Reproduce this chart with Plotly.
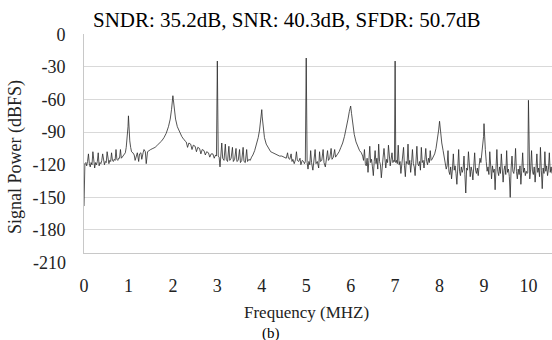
import plotly.graph_objects as go

# ---------------- data ----------------
freq_0_1 = [0.00, 0.02, 0.04, 0.06, 0.08, 0.10, 0.12, 0.14, 0.16, 0.18, 0.20, 0.22, 0.24, 0.26, 0.28,
            0.30, 0.32, 0.34, 0.36, 0.38, 0.40, 0.42, 0.44, 0.46, 0.48, 0.50, 0.52, 0.54, 0.56, 0.58,
            0.60, 0.62, 0.64, 0.66, 0.68, 0.70, 0.72, 0.74, 0.76, 0.78, 0.80, 0.82, 0.84, 0.86, 0.88,
            0.90, 0.93, 0.95, 0.97, 0.99, 1.00, 1.01, 1.03, 1.05, 1.07]
db_0_1 = [-158, -119, -118, -121, -117, -110, -119, -122, -118, -120, -108, -119, -123, -118, -120,
          -117, -109, -121, -118, -119, -116, -110, -118, -120, -117, -118, -108, -117, -119, -116,
          -117, -109, -116, -117, -115, -116, -106, -115, -116, -114, -114, -106, -114, -113, -112,
          -111, -109, -104, -97, -85, -75, -85, -98, -104, -108]

freq_1_2 = [1.10, 1.13, 1.15, 1.18, 1.20, 1.23, 1.25, 1.28, 1.30, 1.33, 1.35, 1.38, 1.40, 1.43, 1.46,
            1.50, 1.55, 1.60, 1.65, 1.70, 1.75, 1.80, 1.85, 1.90, 1.94, 1.97, 1.99, 2.00, 2.01, 2.03,
            2.06, 2.10, 2.15, 2.20, 2.25]
db_1_2 = [-109, -111, -116, -110, -109, -117, -110, -109, -115, -109, -106, -108, -119, -108, -107,
          -106, -105, -104, -102, -100, -98, -95, -91, -85, -78, -69, -60, -56.5, -60, -69,
          -78, -85, -90, -94, -97]

freq_2_3 = [2.30, 2.33, 2.36, 2.40, 2.43, 2.46, 2.50, 2.53, 2.56, 2.60, 2.63, 2.66, 2.70, 2.73, 2.76,
            2.80, 2.83, 2.86, 2.90, 2.93, 2.96, 2.98, 3.00, 3.02, 3.04, 3.06]
db_2_3 = [-99, -104, -100, -101, -106, -102, -103, -108, -104, -105, -110, -106, -107, -111, -108,
          -109, -113, -110, -110, -114, -111, -112, -24.6, -112, -113, -122]

freq_3_4 = [3.08, 3.10, 3.12, 3.15, 3.18, 3.20, 3.23, 3.26, 3.28, 3.31, 3.34, 3.36, 3.39, 3.42, 3.44,
            3.47, 3.50, 3.52, 3.55, 3.58, 3.60, 3.63, 3.66, 3.68, 3.71, 3.74, 3.77, 3.80, 3.84, 3.88,
            3.92, 3.95, 3.97, 3.99, 4.00, 4.01, 4.03, 4.06, 4.10, 4.15, 4.20, 4.25, 4.30]
db_3_4 = [-113, -100, -114, -116, -101, -115, -117, -103, -116, -114, -104, -117, -115, -105, -117,
          -116, -106, -118, -116, -104, -117, -118, -106, -117, -115, -116, -113, -111, -107, -102,
          -95, -88, -82, -74, -69.3, -76, -86, -95, -101, -105, -108, -109, -110]

freq_4_5 = [4.35, 4.40, 4.45, 4.50, 4.55, 4.58, 4.60, 4.63, 4.66, 4.68, 4.70, 4.73, 4.76, 4.78, 4.80,
            4.83, 4.86, 4.88, 4.91, 4.94, 4.96, 4.98, 5.00, 5.02, 5.04, 5.06]
db_4_5 = [-111, -112, -112, -113, -114, -109, -114, -115, -110, -117, -115, -119, -115, -108, -116,
          -117, -114, -120, -116, -117, -119, -117, -21.8, -118, -124, -117]

freq_5_6 = [5.08, 5.10, 5.12, 5.15, 5.17, 5.20, 5.22, 5.25, 5.28, 5.30, 5.32, 5.35, 5.38, 5.40, 5.43,
            5.45, 5.48, 5.50, 5.53, 5.56, 5.58, 5.61, 5.64, 5.66, 5.70, 5.74, 5.78, 5.82, 5.86, 5.90,
            5.94, 5.97, 6.00, 6.02, 6.05, 6.08, 6.12, 6.16, 6.20, 6.24]
db_5_6 = [-120, -107, -118, -125, -116, -106, -119, -117, -123, -108, -117, -116, -106, -118, -122,
          -115, -107, -116, -114, -105, -115, -113, -106, -113, -111, -108, -104, -100, -94, -87,
          -78, -71, -66, -73, -84, -92, -99, -104, -107, -109]

freq_6_7 = [6.27, 6.29, 6.31, 6.33, 6.35, 6.37, 6.39, 6.41, 6.43, 6.45, 6.47, 6.49, 6.51, 6.53, 6.55,
            6.57, 6.59, 6.61, 6.63, 6.65, 6.67, 6.69, 6.71, 6.73, 6.75, 6.77, 6.79, 6.81, 6.83, 6.85,
            6.87, 6.89, 6.91, 6.93, 6.95, 6.97, 6.985, 7.00, 7.015, 7.03]
db_6_7 = [-112, -116, -106, -119, -121, -114, -127, -116, -103, -118, -115, -122, -130, -117, -107,
          -119, -114, -124, -101, -117, -120, -132, -116, -113, -105, -119, -123, -115, -118, -102,
          -117, -121, -115, -109, -118, -116, -117, -24.6, -118, -116]

freq_7_8 = [7.05, 7.07, 7.09, 7.11, 7.13, 7.15, 7.17, 7.19, 7.21, 7.23, 7.25, 7.27, 7.29, 7.31, 7.33,
            7.35, 7.37, 7.39, 7.41, 7.43, 7.45, 7.47, 7.49, 7.51, 7.53, 7.55, 7.57, 7.59, 7.61, 7.63,
            7.65, 7.67, 7.69, 7.71, 7.73, 7.75, 7.77, 7.79, 7.81, 7.83, 7.86, 7.89, 7.92, 7.95, 7.98,
            8.00, 8.02, 8.05, 8.08, 8.11]
db_7_8 = [-119, -102, -120, -117, -128, -118, -114, -104, -121, -131, -117, -119, -101, -120, -116,
          -127, -118, -106, -119, -122, -130, -116, -103, -119, -121, -117, -125, -104, -118, -116,
          -123, -115, -105, -117, -120, -114, -118, -107, -116, -115, -113, -110, -105, -98, -88,
          -80, -89, -100, -107, -113]

freq_8_9 = [8.13, 8.15, 8.17, 8.19, 8.21, 8.23, 8.25, 8.27, 8.29, 8.31, 8.33, 8.35, 8.37, 8.39, 8.41,
            8.43, 8.45, 8.47, 8.49, 8.51, 8.53, 8.55, 8.57, 8.59, 8.61, 8.63, 8.65, 8.67, 8.69, 8.71,
            8.73, 8.75, 8.77, 8.79, 8.81, 8.83, 8.85, 8.87, 8.89, 8.91, 8.93, 8.95, 8.97, 8.99, 9.00,
            9.01, 9.03, 9.05]
db_8_9 = [-119, -124, -121, -107, -126, -129, -122, -133, -124, -110, -125, -121, -128, -138, -123,
          -106, -126, -130, -122, -127, -124, -112, -129, -146, -123, -125, -108, -127, -131, -122,
          -126, -134, -121, -109, -125, -128, -123, -130, -121, -114, -118, -110, -104, -94, -82.2,
          -95, -106, -117]

freq_9_end = [9.07, 9.09, 9.11, 9.13, 9.15, 9.17, 9.19, 9.21, 9.23, 9.25, 9.27, 9.29, 9.31, 9.33, 9.35,
              9.37, 9.39, 9.41, 9.43, 9.45, 9.47, 9.49, 9.51, 9.53, 9.55, 9.57, 9.59, 9.61, 9.63, 9.65,
              9.67, 9.69, 9.71, 9.73, 9.75, 9.77, 9.79, 9.81, 9.83, 9.85, 9.87, 9.89, 9.91, 9.93, 9.95,
              9.97, 9.985, 10.00, 10.015, 10.03, 10.05, 10.07, 10.09, 10.11, 10.13, 10.15, 10.17, 10.19,
              10.21, 10.23, 10.25, 10.27, 10.29, 10.31, 10.33, 10.35, 10.37, 10.39, 10.41, 10.43, 10.45,
              10.47, 10.49, 10.51, 10.53]
db_9_end = [-126, -122, -129, -108, -125, -133, -121, -127, -124, -143, -123, -106, -126, -130, -122,
            -128, -110, -124, -136, -125, -121, -129, -107, -127, -124, -131, -150, -123, -112, -126,
            -128, -122, -105, -126, -133, -124, -129, -121, -138, -125, -109, -127, -123, -130, -126,
            -128, -127, -60.7, -126, -133, -124, -107, -126, -129, -122, -136, -124, -110,
            -127, -123, -131, -104, -125, -142, -123, -128, -108, -126, -121, -130, -124,
            -109, -127, -122, -128]

freq_mhz = (freq_0_1 + freq_1_2 + freq_2_3 + freq_3_4 + freq_4_5 + freq_5_6 + freq_6_7
            + freq_7_8 + freq_8_9 + freq_9_end)
power_dbfs = (db_0_1 + db_1_2 + db_2_3 + db_3_4 + db_4_5 + db_5_6 + db_6_7
              + db_7_8 + db_8_9 + db_9_end)

y_ticks = [0, -30, -60, -90, -120, -150, -180]
y_tick_text = ["0", "-30", "-60", "-90", "-120", "-150", "-180"]
y_extra_tick = -210
x_ticks = [0, 1, 2, 3, 4, 5, 6, 7, 8, 9, 10]
x_tick_text = ["0", "1", "2", "3", "4", "5", "6", "7", "8", "9", "10"]

title_text = "SNDR: 35.2dB, SNR: 40.3dB, SFDR: 50.7dB"
x_title = "Frequency (MHZ)"
y_title = "Signal Power (dBFS)"
sub_label = "(b)"

# ---------------- layout ----------------
W, H = 552, 340
ML, MR, MT, MB = 84, 0, 34, 87
Y_RANGE = [-201.2, 0.3]
X_RANGE = [0, 10.53]
FONT = '"Times New Roman", "Liberation Serif", "DejaVu Serif", serif'
plot_w = W - ML - MR
plot_h = H - MT - MB


def px_to_paper(px, py):
    return (px - ML) / plot_w, (H - MB - py) / plot_h


def yval_to_paper(v):
    return (v - Y_RANGE[0]) / (Y_RANGE[1] - Y_RANGE[0])


fig = go.Figure()
fig.add_trace(go.Scatter(
    x=freq_mhz, y=power_dbfs, mode="lines",
    line=dict(color="#2a2a2a", width=0.8),
    hoverinfo="skip", showlegend=False,
))

tx, ty = px_to_paper(286, 20)
xtx, xty = px_to_paper(306, 323)
ytx, yty = px_to_paper(15, 157)
bx, by = px_to_paper(271, 324)
lx, _ = px_to_paper(68, 0)

annotations = [
    dict(text=title_text, x=tx, y=ty, xref="paper", yref="paper", showarrow=False,
         xanchor="center", yanchor="middle", font=dict(family=FONT, size=21, color="#000")),
    dict(text=x_title, x=xtx, y=xty, xref="paper", yref="paper", showarrow=False, borderpad=0,
         xanchor="center", yanchor="bottom", font=dict(family=FONT, size=17, color="#222")),
    dict(text=y_title, x=ytx, y=yty, xref="paper", yref="paper", showarrow=False, textangle=-90,
         xanchor="center", yanchor="middle", font=dict(family=FONT, size=18, color="#222")),
    dict(text=sub_label, x=bx, y=by, xref="paper", yref="paper", showarrow=False, borderpad=0,
         xanchor="center", yanchor="top", font=dict(family=FONT, size=15, color="#000")),
    dict(text=str(y_extra_tick), x=lx, y=yval_to_paper(y_extra_tick), xref="paper", yref="paper",
         showarrow=False, xanchor="right", yanchor="middle",
         font=dict(family=FONT, size=18, color="#222")),
]

fig.update_layout(
    width=W, height=H,
    margin=dict(l=ML, r=MR, t=MT, b=MB, pad=0),
    paper_bgcolor="white", plot_bgcolor="white",
    font=dict(family=FONT, size=18, color="#222"),
    annotations=annotations,
    showlegend=False,
)
fig.update_xaxes(
    range=X_RANGE, tickmode="array", tickvals=x_ticks, ticktext=x_tick_text,
    showgrid=False, zeroline=False, showline=True, linecolor="#c8c8c8", linewidth=1,
    ticks="", ticklabelstandoff=16, tickfont=dict(family=FONT, size=18, color="#222"),
)
fig.update_yaxes(
    range=Y_RANGE, tickmode="array", tickvals=y_ticks, ticktext=y_tick_text,
    showgrid=True, gridcolor="#d9d9d9", gridwidth=1, zeroline=False,
    showline=True, linecolor="#c8c8c8", linewidth=1,
    ticks="", ticklabelstandoff=14, tickfont=dict(family=FONT, size=18, color="#222"),
)

fig.write_html("out.html")
